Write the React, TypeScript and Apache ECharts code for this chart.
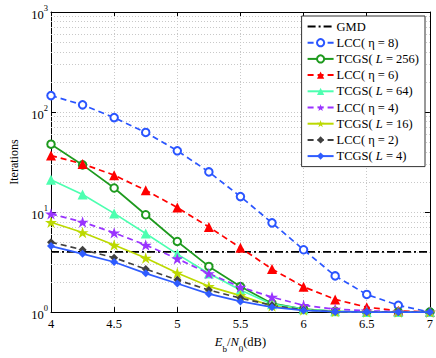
import React, { useEffect, useRef } from "react";
import * as echarts from "echarts";

const xValues = [4, 4.25, 4.5, 4.75, 5, 5.25, 5.5, 5.75, 6, 6.25, 6.5, 6.75, 7];
const gmd = [4, 4, 4, 4, 4, 4, 4, 4, 4, 4, 4, 4, 4];
const lcc8 = [146, 118, 88, 62.5, 41, 25.2, 14.3, 7.8, 4.2, 2.3, 1.5, 1.17, 1.0];
const tcgs256 = [47.7, 29.6, 17.4, 9.4, 5.08, 2.86, 1.8, 1.22, 1.07, 1.02, 1.0, 1.0, 1.0];
const lcc6 = [36.7, 30.3, 23.4, 16.5, 11.1, 7.1, 4.4, 2.69, 1.79, 1.34, 1.12, 1.03, 1.0];
const tcgs64 = [21, 15, 9.7, 6.1, 3.8, 2.43, 1.66, 1.2, 1.07, 1.02, 1.0, 1.0, 1.0];
const lcc4 = [9.6, 7.95, 6.2, 4.68, 3.42, 2.43, 1.78, 1.41, 1.17, 1.07, 1.03, 1.01, 1.0];
const tcgs16 = [7.9, 6.25, 4.68, 3.47, 2.46, 1.81, 1.46, 1.15, 1.05, 1.01, 1.0, 1.0, 1.0];
const lcc2 = [5.0, 4.2, 3.5, 2.69, 2.1, 1.66, 1.38, 1.17, 1.05, 1.01, 1.0, 1.0, 1.0];
const tcgs4 = [4.57, 3.82, 3.17, 2.44, 1.93, 1.52, 1.28, 1.12, 1.04, 1.01, 1.0, 1.0, 1.0];

const minorGrid = [2, 3, 4, 5, 6, 7, 8, 9, 20, 30, 40, 50, 60, 70, 80, 90, 200, 300, 400, 500, 600, 700, 800, 900];

const STAR = "path://M50 0 L61.17 34.63 L97.55 34.55 L68.07 55.87 L79.39 90.45 L50 69 L20.61 90.45 L31.93 55.87 L2.45 34.55 L38.83 34.63 Z";
const FONT = "'Liberation Serif', 'Times New Roman', serif";

const pair = (ys: number[]) => xValues.map((x, i) => [x, ys[i]]);

export default function App() {
  const ref = useRef<HTMLDivElement>(null);
  useEffect(() => {
    if (!ref.current) return;
    const chart = echarts.init(ref.current, null, { renderer: "svg" });
    const mk = (
      name: string,
      data: number[],
      color: string,
      dashed: boolean,
      symbol: string,
      symbolSize: number,
      z: number
    ) => ({
      name,
      type: "line",
      data: pair(data),
      symbol,
      symbolSize,
      symbolKeepAspect: true,
      showSymbol: true,
      z,
      lineStyle: { color, width: 1.7, type: dashed ? [6, 4] : "solid" },
      itemStyle: { color, borderWidth: symbol === "emptyCircle" ? 1.6 : 0 },
      emphasis: { disabled: true },
    });
    const series: any[] = [
      {
        name: "GMD",
        type: "line",
        data: pair(gmd),
        symbol: "none",
        z: 2,
        lineStyle: { color: "#000000", width: 1.7, type: [8, 3, 2, 3] },
        itemStyle: { color: "#000000" },
        markLine: {
          silent: true,
          symbol: "none",
          label: { show: false },
          lineStyle: { color: "#c8c8c8", type: [1, 2], width: 1 },
          data: minorGrid.map((v) => ({ yAxis: v })),
          z: 1,
        },
      },
      mk("LCC( η = 8)", lcc8, "#2a55ff", true, "emptyCircle", 7.5, 3),
      mk("TCGS( L = 256)", tcgs256, "#1e9a1e", false, "emptyCircle", 7.5, 3),
      mk("LCC( η = 6)", lcc6, "#ff0000", true, "triangle", 10, 3),
      mk("TCGS( L = 64)", tcgs64, "#4dffb0", false, "triangle", 10, 3),
      mk("LCC( η = 4)", lcc4, "#9933ff", true, STAR, 12, 3),
      mk("TCGS( L = 16)", tcgs16, "#bcd900", false, STAR, 12, 3),
      mk("LCC( η = 2)", lcc2, "#404040", true, "diamond", 8, 3),
      mk("TCGS( L = 4)", tcgs4, "#2f5cff", false, "diamond", 8, 4),
    ];
    const axisLine = { show: true, lineStyle: { color: "#000", width: 1 } };
    const gridLine = { show: true, lineStyle: { color: "#c8c8c8", type: [1, 2], width: 1 } };
    chart.setOption({
      animation: false,
      backgroundColor: "#ffffff",
      textStyle: { fontFamily: FONT },
      grid: { left: 38, right: 5, top: 12, bottom: 37, containLabel: false },
      legend: {
        orient: "vertical",
        right: 11,
        top: 16,
        itemWidth: 26,
        itemHeight: 9,
        itemGap: 3.2,
        padding: [4, 6, 4, 5],
        borderColor: "#333",
        borderWidth: 1,
        backgroundColor: "#ffffff",
        data: series.map((s) =>
          s.name === "GMD" ? { name: s.name, itemStyle: { opacity: 0 } } : s.name
        ),
        textStyle: {
          fontFamily: FONT,
          fontSize: 12.5,
          color: "#000",
          padding: [0, 0, 0, -2],
          rich: { i: { fontFamily: FONT, fontSize: 12.5, fontStyle: "italic", color: "#000" } },
        },
        formatter: (name: string) => name.replace(" L =", " {i|L} ="),
      },
      xAxis: [
        {
          type: "value",
          min: 4,
          max: 7,
          interval: 0.5,
          axisLine,
          axisTick: { inside: true, length: 5, lineStyle: { color: "#000" } },
          axisLabel: { color: "#000", fontSize: 12.5, fontFamily: FONT, margin: 5 },
          splitLine: gridLine,
          name: "{i|E}{sub|b}{n|/}{i|N}{sub|0}{n|(dB)}",
          nameLocation: "middle",
          nameGap: 22,
          nameTextStyle: {
            rich: {
              i: { fontFamily: FONT, fontSize: 12.5, fontStyle: "italic", color: "#000", lineHeight: 18, verticalAlign: "top" },
              n: { fontFamily: FONT, fontSize: 12.5, color: "#000", lineHeight: 18, verticalAlign: "top" },
              sub: { fontFamily: FONT, fontSize: 9, color: "#000", lineHeight: 9, verticalAlign: "bottom" },
            },
          },
        },
        {
          type: "value",
          position: "top",
          min: 4,
          max: 7,
          interval: 0.5,
          axisLine,
          axisTick: { inside: true, length: 5, lineStyle: { color: "#000" } },
          axisLabel: { show: false },
          splitLine: { show: false },
        },
      ],
      yAxis: [
        {
          type: "log",
          logBase: 10,
          min: 1,
          max: 1000,
          axisLine,
          axisTick: { inside: true, length: 5, lineStyle: { color: "#000" } },
          axisLabel: {
            color: "#000",
            margin: 3,
            formatter: (v: number) => `{b|10}{s|${Math.round(Math.log10(v))}}`,
            rich: {
              b: { fontFamily: FONT, fontSize: 12.5, color: "#000", lineHeight: 18, verticalAlign: "bottom" },
              s: { fontFamily: FONT, fontSize: 8.5, color: "#000", lineHeight: 9, verticalAlign: "top" },
            },
          },
          splitLine: gridLine,
          name: "Iterations",
          nameLocation: "middle",
          nameRotate: 90,
          nameGap: 31,
          nameTextStyle: { fontFamily: FONT, fontSize: 12, color: "#000" },
        },
        {
          type: "log",
          logBase: 10,
          min: 1,
          max: 1000,
          position: "right",
          axisLine,
          axisTick: { inside: true, length: 5, lineStyle: { color: "#000" } },
          axisLabel: { show: false },
          splitLine: { show: false },
        },
      ],
      series,
    });
    return () => chart.dispose();
  }, []);
  return <div ref={ref} style={{ width: 436, height: 358, position: "absolute", left: 0, top: 0 }} />;
}
